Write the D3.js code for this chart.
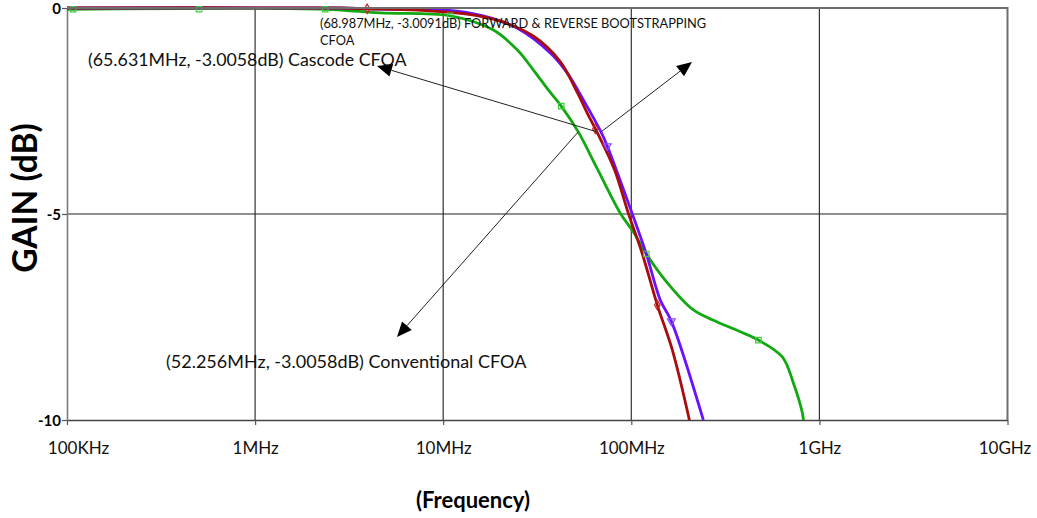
<!DOCTYPE html>
<html>
<head>
<meta charset="utf-8">
<script src="https://cdn.jsdelivr.net/npm/d3@7"></script>
<style>
  html, body { margin: 0; background: #fff; }
  svg { display: block; font-family: Lato, "Open Sans", sans-serif; }
</style>
</head>
<body>
<svg id="chart" width="1037" height="518"></svg>
<script>
// Axis ticks
const xTickValues = [1e5, 1e6, 1e7, 1e8, 1e9, 1e10];
const xTickLabels = ["100KHz", "1MHz", "10MHz", "100MHz", "1GHz", "10GHz"];
const yTickValues = [0, -5, -10];
const yTickLabels = ["0", "-5", "-10"];

// Conventional CFOA (green trace)
const convFreq = [1e5, 2.36e6, 4.62e6, 10.9e6, 18.4e6, 24.8e6, 30.1e6, 37.1e6, 42.4e6, 52.256e6,
                  65.9e6, 87.4e6, 103e6, 120.2e6, 155.4e6, 213.8e6, 286.6e6, 380e6,
                  474e6, 635e6, 727e6, 812e6, 822e6];
const convGain = [-0.03, -0.03, -0.12, -0.19, -0.53, -1.02, -1.50, -2.05, -2.38, -3.0058,
                  -3.90, -4.98, -5.45, -5.97, -6.67, -7.33, -7.62, -7.86,
                  -8.06, -8.47, -9.10, -9.83, -10.0];
const convMarkFreq = [107.7e3, 503e3, 2.36e6, 10.9e6, 42.4e6, 120.2e6, 474e6];
const convMarkGain = [-0.03, -0.03, -0.03, -0.19, -2.38, -5.97, -8.06];

// Forward & reverse bootstrapping CFOA (blue trace)
const bootFreq = [1e5, 2.83e6, 3.94e6, 7.36e6, 10.5e6, 16.3e6, 24.8e6, 37.1e6, 45.7e6, 55.6e6,
                  68.987e6, 74.5e6, 100.9e6, 120.2e6, 142.6e6, 163.2e6, 241.5e6];
const bootGain = [0, 0, -0.02, -0.04, -0.05, -0.19, -0.49, -1.09, -1.58, -2.23,
                  -3.0091, -3.35, -4.98, -5.97, -7.09, -7.60, -10.0];
const bootMarkFreq = [74.5e6, 163.2e6];
const bootMarkGain = [-3.35, -7.60];

// Cascode CFOA (red trace)
const cascFreq = [1e5, 2.83e6, 3.94e6, 7.28e6, 13.4e6, 20.1e6, 30.1e6, 41.9e6, 51.6e6, 58.3e6,
                  65.631e6, 81.5e6, 96.4e6, 114.5e6, 137.5e6, 165.2e6, 203.6e6];
const cascGain = [0, 0, -0.02, -0.05, -0.15, -0.32, -0.68, -1.30, -2.05, -2.55,
                  -3.0058, -3.93, -4.98, -5.97, -7.21, -8.30, -10.0];
const cascMarkFreq = [3.94e6, 64.4e6, 137.5e6];
const cascMarkGain = [-0.02, -2.93, -7.21];

// -3 dB cut-off points quoted in the annotations
const cutoffFreq = [65.631e6, 68.987e6, 52.256e6];
const cutoffGain = [-3.0058, -3.0091, -3.0058];
const cutoffLabels = ["(65.631MHz, -3.0058dB) Cascode CFOA",
                      "(68.987MHz, -3.0091dB) FORWARD & REVERSE BOOTSTRAPPING",
                      "(52.256MHz, -3.0058dB) Conventional CFOA"];

const svg = d3.select("#chart");
const plotLeft = 67, plotRight = 1007.5, plotTop = 8, plotBottom = 420;

const x = d3.scaleLog().domain([1e5, 1e10]).range([plotLeft, plotRight]);
const y = d3.scaleLinear().domain([-10, 0]).range([plotBottom, plotTop]);

// Vertical decade grid lines
svg.append("g").selectAll("line")
  .data(xTickValues.slice(1, -1))
  .join("line")
  .attr("x1", d => x(d)).attr("x2", d => x(d))
  .attr("y1", plotTop).attr("y2", plotBottom)
  .attr("stroke", "#333").attr("stroke-width", 1.2);

// Horizontal grid line at -5 dB
svg.append("line")
  .attr("x1", plotLeft).attr("x2", plotRight)
  .attr("y1", y(-5)).attr("y2", y(-5))
  .attr("stroke", "#222").attr("stroke-width", 1.2);

// Axes
const xAxis = d3.axisBottom(x).tickValues(xTickValues)
  .tickFormat((d, i) => xTickLabels[i]).tickSize(5).tickSizeOuter(0);
const gx = svg.append("g").attr("transform", `translate(0,${plotBottom})`).call(xAxis);
gx.select(".domain").attr("stroke", "#444").attr("stroke-width", 1.5);
gx.selectAll(".tick line").attr("stroke", "#555").attr("stroke-width", 1.2);
gx.selectAll(".tick text")
  .attr("font-family", "Lato, sans-serif").attr("font-size", 17).attr("fill", "#111")
  .attr("dy", "1.5em")
  .attr("dx", (d, i) => i === 0 ? 11 : (i === xTickValues.length - 1 ? -3 : 0));

const yAxis = d3.axisLeft(y).tickValues(yTickValues)
  .tickFormat((d, i) => yTickLabels[i]).tickSize(5).tickSizeOuter(0);
const gy = svg.append("g").attr("transform", `translate(${plotLeft},0)`).call(yAxis);
gy.select(".domain").attr("stroke", "#7a7a7a").attr("stroke-width", 1.6);
gy.selectAll(".tick line").attr("stroke", "#555").attr("stroke-width", 1.2);
gy.selectAll(".tick text")
  .attr("font-family", "Lato, sans-serif").attr("font-size", 15)
  .attr("font-weight", "bold").attr("fill", "#000").attr("x", -6).attr("dy", "0.36em");

// Clip traces to the plot frame
svg.append("defs").append("clipPath").attr("id", "plot-clip")
  .append("rect").attr("x", plotLeft).attr("y", plotTop - 2)
  .attr("width", plotRight - plotLeft).attr("height", plotBottom - plotTop + 2);

const line = d3.line()
  .x(d => x(d[0])).y(d => y(d[1]))
  .curve(d3.curveCatmullRom.alpha(0.5));

const traces = [
  { freq: convFreq, gain: convGain, color: "#12a812", mf: convMarkFreq, mg: convMarkGain, marker: "square", mcolor: "#3ccc3c" },
  { freq: bootFreq, gain: bootGain, color: "#6a12ff", mf: bootMarkFreq, mg: bootMarkGain, marker: "triangle", mcolor: "#8a4cff" },
  { freq: cascFreq, gain: cascGain, color: "#a80c0c", mf: cascMarkFreq, mg: cascMarkGain, marker: "diamond", mcolor: "#c0262a" }
];

const plot = svg.append("g").attr("clip-path", "url(#plot-clip)");
traces.forEach(t => {
  plot.append("path")
    .datum(t.freq.map((f, i) => [f, t.gain[i]]))
    .attr("fill", "none").attr("stroke", t.color)
    .attr("stroke-width", 2.8).attr("stroke-linejoin", "round")
    .attr("d", line);
});

// Trace markers
const symbolType = { square: d3.symbolSquare, triangle: d3.symbolTriangle, diamond: d3.symbolDiamond };
traces.forEach(t => {
  svg.append("g").selectAll("path")
    .data(t.mf.map((f, i) => [f, t.mg[i]]))
    .join("path")
    .attr("transform", d => `translate(${x(d[0])},${y(d[1])})` + (t.marker === "triangle" ? " rotate(180)" : ""))
    .attr("d", d3.symbol().type(symbolType[t.marker]).size(t.marker === "square" ? 30 : 26))
    .attr("fill", "none").attr("stroke", t.mcolor).attr("stroke-width", 1.2);
});

// Top and right frame edges
svg.append("path")
  .attr("d", `M${plotLeft},${plotTop}H${plotRight}V${plotBottom}`)
  .attr("fill", "none").attr("stroke", "#6e6e6e").attr("stroke-width", 2);

// Annotation arrows from each -3 dB point
const arrowTips = [[377, 66], [692, 62], [397, 337]];
const annot = svg.append("g");
cutoffFreq.forEach((f, i) => {
  const sx = x(f), sy = y(cutoffGain[i]);
  const [tx, ty] = arrowTips[i];
  const ang = Math.atan2(ty - sy, tx - sx);
  const headLen = 15, headHalf = 6.5;
  const bx = tx - headLen * Math.cos(ang), by = ty - headLen * Math.sin(ang);
  annot.append("line")
    .attr("x1", sx).attr("y1", sy).attr("x2", bx).attr("y2", by)
    .attr("stroke", "#222").attr("stroke-width", 1);
  const px = -Math.sin(ang) * headHalf, py = Math.cos(ang) * headHalf;
  annot.append("path")
    .attr("d", `M${tx},${ty}L${bx + px},${by + py}L${bx - px},${by - py}Z`)
    .attr("fill", "#000");
});

// Annotation texts
annot.append("text").attr("x", 88).attr("y", 65.5)
  .attr("font-size", 17.8).attr("fill", "#111").text(cutoffLabels[0]);
annot.append("text").attr("x", 320).attr("y", 27.5)
  .attr("font-size", 12.8).attr("fill", "#111").text(cutoffLabels[1]);
annot.append("text").attr("x", 320).attr("y", 44.5)
  .attr("font-size", 12.8).attr("fill", "#111").text("CFOA");
annot.append("text").attr("x", 166).attr("y", 368)
  .attr("font-size", 18).attr("fill", "#111").text(cutoffLabels[2]);

// Axis titles
svg.append("text")
  .attr("transform", "translate(37,198) rotate(-90)")
  .attr("text-anchor", "middle").attr("font-weight", "bold")
  .attr("font-size", 33.5).attr("fill", "#000").text("GAIN (dB)");
svg.append("text")
  .attr("x", 473).attr("y", 508)
  .attr("text-anchor", "middle").attr("font-weight", "bold")
  .attr("font-size", 22).attr("fill", "#000").text("(Frequency)");
</script>
</body>
</html>
